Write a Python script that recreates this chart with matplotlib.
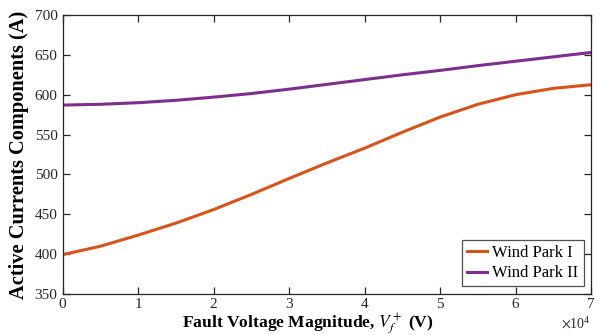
import matplotlib
matplotlib.use("Agg")
import matplotlib.pyplot as plt
from matplotlib.ticker import ScalarFormatter

plt.rcParams['font.family'] = ['Liberation Serif', 'DejaVu Serif']
plt.rcParams['mathtext.fontset'] = 'stix'

voltage = [0, 5000, 10000, 15000, 20000, 25000, 30000, 35000, 40000, 45000,
           50000, 55000, 60000, 65000, 70000]
wind_park_1 = [399.5, 410, 424, 439, 456, 475, 495, 514.5, 533, 553,
               572, 588, 600, 608, 612.5]
wind_park_2 = [587, 588, 590, 593, 597, 601.5, 607, 613, 619, 625,
               630.5, 636.5, 642, 647.5, 653]
labels = ["Wind Park I", "Wind Park II"]

fig = plt.figure(figsize=(6.04, 3.35), dpi=100)
ax = fig.add_axes([0.1043, 0.1224, 0.8742, 0.8328])

ax.plot(voltage, wind_park_1, color='#D95319', lw=2.2, label=labels[0])
ax.plot(voltage, wind_park_2, color='#7E2F8E', lw=2.2, label=labels[1])

ax.set_xlim(0, 70000)
ax.set_ylim(350, 700)
ax.set_xticks(range(0, 70001, 10000))
ax.set_yticks(range(350, 701, 50))
fmt = ScalarFormatter(useMathText=True)
fmt.set_powerlimits((0, 0))
ax.xaxis.set_major_formatter(fmt)

ax.tick_params(direction='in', length=5, width=0.9, top=True, right=True,
               labelsize=11, colors='#262626', pad=4)
ax.tick_params(axis='x', pad=2.5)
ax.xaxis.get_offset_text().set_fontsize(10)
for s in ax.spines.values():
    s.set_linewidth(0.9)
    s.set_color('#262626')

ax.set_xlabel(r"Fault Voltage Magnitude, $V_f^+$ (V)", fontsize=12.6,
              fontweight='bold')
ax.xaxis.set_label_coords(0.464, -0.0605, transform=ax.transAxes)
ax.xaxis.label.set_va('top')
ax.set_ylabel("Active Currents Components (A)", fontsize=14.7,
              fontweight='bold')
ax.yaxis.set_label_coords(-0.064, 0.5)

leg = ax.legend(loc='lower right', fontsize=12, frameon=True, fancybox=False,
                edgecolor='#262626', handlelength=1.2, handletextpad=0.35,
                borderpad=0.3, labelspacing=0.25, borderaxespad=0.45)
leg.get_frame().set_linewidth(0.9)

fig.savefig("out.png", dpi=100)
